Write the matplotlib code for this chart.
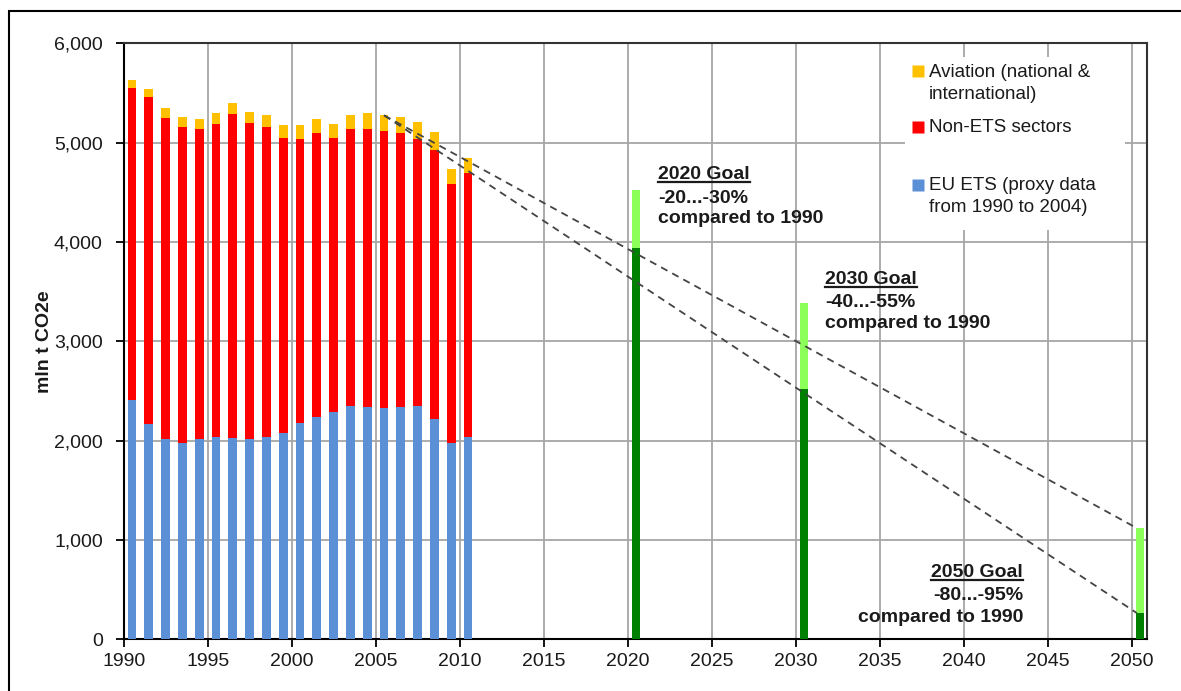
import numpy as np
import matplotlib.pyplot as plt
from matplotlib.patches import Rectangle

plt.rcParams['font.family'] = ['Liberation Sans', 'DejaVu Sans']

#historic emissions, mln t CO2e
years = list(range(1990, 2011))
eu_ets = [2405, 2165, 2015, 1980, 2015, 2035, 2025, 2015, 2035, 2075,
          2180, 2240, 2290, 2350, 2335, 2325, 2335, 2345, 2220, 1975, 2035]
non_ets = [3145, 3295, 3235, 3175, 3125, 3150, 3265, 3180, 3120, 2975,
           2860, 2860, 2755, 2790, 2805, 2790, 2765, 2695, 2710, 2605, 2660]
aviation = [85, 85, 95, 100, 95, 110, 110, 115, 120, 125,
            140, 135, 140, 140, 155, 160, 160, 170, 175, 155, 150]

#goals
goal_years = [2020, 2030, 2050]
goal_upper = [4525, 3385, 1120]
goal_lower = [3940, 2525, 265]
goal_titles = ['2020 Goal', '2030 Goal', '2050 Goal']
goal_ranges = ['-20...-30%', '-40...-55%', '-80...-95%']

legend_labels = [['Aviation (national &', 'international)'],
                 ['Non-ETS sectors'],
                 ['EU ETS (proxy data', 'from 1990 to 2004)']]

c_blue = '#5B8FD6'
c_red = '#FF0000'
c_orange = '#FFC000'
c_light = '#8CFF5A'
c_dark = '#008000'
txt = '#1a1a1a'

fig = plt.figure(figsize=(11.81, 6.91), dpi=100)
ax = fig.add_axes([0.1047, 0.0748, 0.9712 - 0.1047, 0.9373 - 0.0748])

x = np.array(years) + 0.5
w = 0.52
eu = np.array(eu_ets)
ne = np.array(non_ets)
av = np.array(aviation)
ax.bar(x, eu, w, color=c_blue, zorder=3)
ax.bar(x, ne, w, bottom=eu, color=c_red, zorder=3)
ax.bar(x, av, w, bottom=eu + ne, color=c_orange, zorder=3)

gx = np.array(goal_years) + 0.5
ax.bar(gx, goal_upper, w, color=c_light, zorder=3)
ax.bar(gx, goal_lower, w, color=c_dark, zorder=3)

#trend lines from 2005 to the 2050 goals
i05 = years.index(2005)
start = (x[i05], eu[i05] + ne[i05] + av[i05])
for end in (goal_upper[-1], goal_lower[-1]):
    ax.plot([start[0], gx[-1] - 0.2], [start[1], end], color='#444444',
            ls=(0, (4, 3)), lw=1.3, zorder=4)

ax.set_xlim(1990, 2050.91)
ax.set_ylim(0, 6000)
ax.set_xticks(range(1990, 2051, 5))
ax.set_yticks(range(0, 6001, 1000))
ax.set_yticklabels([f'{v:,}' for v in range(0, 6001, 1000)])
ax.grid(True, color='#A6A6A6', lw=1.3, zorder=0)
ax.tick_params(axis='both', direction='out', length=6, width=1.3,
               labelsize=14, labelcolor=txt)
ax.tick_params(axis='y', pad=9)
ax.tick_params(axis='x', pad=4)
for s in ['left', 'bottom']:
    ax.spines[s].set_color('black')
    ax.spines[s].set_linewidth(1.5)
for s in ['top', 'right']:
    ax.spines[s].set_color('#333333')
    ax.spines[s].set_linewidth(1.5)
ax.set_ylabel('mln t CO2e', fontsize=14, fontweight='bold', color=txt, labelpad=1)

#legend drawn by hand
ax.add_patch(Rectangle((0.7635, 0.6867), 0.215, 0.29, transform=ax.transAxes,
                       facecolor='white', edgecolor='none', zorder=5))
leg_colors = [c_orange, c_red, c_blue]
leg_y = [0.9435, 0.8505, 0.7535]
for col, yy, lines in zip(leg_colors, leg_y, legend_labels):
    ax.plot(0.7767, yy + 0.0095, marker='s', ms=8, color=col, mec='none',
            transform=ax.transAxes, clip_on=False, zorder=6)
    for k, line in enumerate(lines):
        ax.text(0.787, yy - k * 0.0369, line, transform=ax.transAxes,
                fontsize=13.5, color=txt, va='baseline', ha='left', zorder=6)

#goal annotations
ann_x = [2021.8, 2031.74, 2043.53]
ann_y = [[4632, 4397, 4195], [3575, 3349, 3132], [630, 396, 177]]
ann_ha = ['left', 'left', 'right']
titles = []
for tx, ty, ha, t1, t2 in zip(ann_x, ann_y, ann_ha, goal_titles, goal_ranges):
    t = ax.text(tx, ty[0], t1, fontsize=14, fontweight='bold', color=txt,
                ha=ha, va='baseline', zorder=6)
    titles.append(t)
    ax.text(tx, ty[1], t2, fontsize=14, fontweight='bold', color=txt,
            ha=ha, va='baseline', zorder=6)
    ax.text(tx, ty[2], 'compared to 1990', fontsize=14, fontweight='bold',
            color=txt, ha=ha, va='baseline', zorder=6)

#underline the goal titles
fig.canvas.draw()
inv = ax.transData.inverted()
for t, ty in zip(titles, ann_y):
    bb = t.get_window_extent()
    base = ax.transData.transform((0, ty[0]))[1]
    p0 = inv.transform((bb.x0, base - 3))
    p1 = inv.transform((bb.x1, base - 3))
    ax.plot([p0[0], p1[0]], [p0[1], p1[1]], color=txt, lw=1.6, zorder=6,
            clip_on=False)

#outer frame
fig.patches.append(Rectangle((9 / 1181, -0.1), 1.2, 0.1 + 1 - 11 / 691,
                             transform=fig.transFigure, fill=False,
                             edgecolor='black', lw=1.5))

plt.savefig('out.png', dpi=100)
